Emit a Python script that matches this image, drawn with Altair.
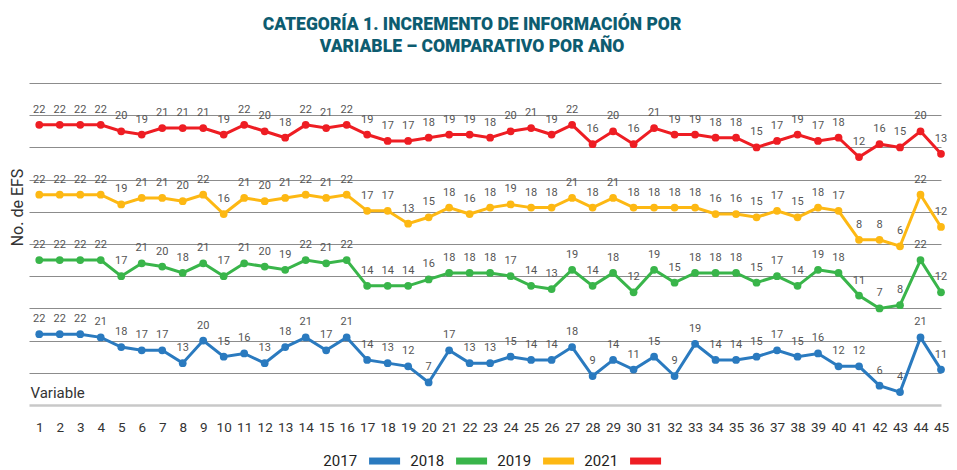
import altair as alt
import pandas as pd

variables = list(range(1, 46))
years = ["2017", "2018", "2019", "2021"]
colors = ["#2a7abf", "#39b54a", "#fdb813", "#ee1d23"]
band_offsets = [0, 23, 43.3, 65]

v2017 = [22, 22, 22, 21, 18, 17, 17, 13, 20, 15, 16, 13, 18, 21, 17, 21, 14, 13, 12, 7, 17, 13, 13,
         15, 14, 14, 18, 9, 14, 11, 15, 9, 19, 14, 14, 15, 17, 15, 16, 12, 12, 6, 4, 21, 11]
v2018 = [22, 22, 22, 22, 17, 21, 20, 18, 21, 17, 21, 20, 19, 22, 21, 22, 14, 14, 14, 16, 18, 18, 18,
         17, 14, 13, 19, 14, 18, 12, 19, 15, 18, 18, 18, 15, 17, 14, 19, 18, 11, 7, 8, 22, 12]
v2019 = [22, 22, 22, 22, 19, 21, 21, 20, 22, 16, 21, 20, 21, 22, 21, 22, 17, 17, 13, 15, 18, 16, 18,
         19, 18, 18, 21, 18, 21, 18, 18, 18, 18, 16, 16, 15, 17, 15, 18, 17, 8, 8, 6, 22, 12]
v2021 = [22, 22, 22, 22, 20, 19, 21, 21, 21, 19, 22, 20, 18, 22, 21, 22, 19, 17, 17, 18, 19, 19, 18,
         20, 21, 19, 22, 16, 20, 16, 21, 19, 19, 18, 18, 15, 17, 19, 17, 18, 12, 16, 15, 20, 13]

rows = []
for year, off, vals in zip(years, band_offsets, [v2017, v2018, v2019, v2021]):
    for var, v in zip(variables, vals):
        rows.append({"variable": var, "year": year, "value": v, "pos": v + off})
df = pd.DataFrame(rows)
legend_df = pd.DataFrame({"year": years, "idx": list(range(len(years)))})

x_scale = alt.Scale(domain=[0.5, 45], nice=False, zero=False)
y_scale = alt.Scale(domain=[0, 100], nice=False)
color_scale = alt.Scale(domain=years, range=colors)

x_axis = alt.Axis(values=variables, format="d", title="Variable", grid=False, ticks=False,
                  domainColor="#c8c8c8", domainWidth=2.5, labelPadding=15,
                  labelFontSize=13.5, labelColor="#333333", labelFlush=False,
                  labelOverlap=False,
                  titleX=1, titleY=-13, titleAlign="left", titleBaseline="middle",
                  titleFontWeight="normal", titleFontSize=15, titleColor="#333333")
y_axis = alt.Axis(values=list(range(10, 101, 10)), grid=True, labels=False, ticks=False,
                  domain=False, title="No. de EFS", gridColor="#8c8c8c", gridWidth=1,
                  titleX=-12, titleY=124, titleAngle=-90, titleAlign="center",
                  titleBaseline="middle", titleFontWeight="normal", titleFontSize=16,
                  titleColor="#333333")

x = alt.X("variable:Q", scale=x_scale, axis=x_axis)
y = alt.Y("pos:Q", scale=y_scale, axis=y_axis)
color = alt.Color("year:N", scale=color_scale, legend=None)

base = alt.Chart(df)
lines = base.mark_line(strokeWidth=3).encode(x=x, y=y, color=color)
points = base.mark_circle(size=60, opacity=1).encode(x=x, y=y, color=color)
labels = base.mark_text(dy=-15, fontSize=11, color="#555555").encode(x=x, y=y, text="value:Q")

# manual legend (label to the left of its colour swatch), placed below the x axis
leg = alt.Chart(legend_df).transform_calculate(
    lx="17.85 + 4.245 * datum.idx", ly="-17.4")
lx = alt.X("lx:Q", scale=x_scale, axis=x_axis)
ly = alt.Y("ly:Q", scale=y_scale, axis=y_axis)
leg_swatch = leg.mark_tick(orient="horizontal", size=31, thickness=7, opacity=1).encode(
    x=lx, y=ly, color=color)
leg_text = leg.mark_text(align="right", baseline="middle", dx=-27.5, fontSize=15,
                         color="#222222").encode(x=lx, y=ly, text="year:N")

chart = alt.layer(lines, points, labels, leg_swatch, leg_text).properties(
    width=912, height=322,
    padding={"left": 21, "top": 75, "right": 8, "bottom": 64},
    autosize=alt.AutoSizeParams(type="none"),
    title=alt.Title(["CATEGORÍA 1. INCREMENTO DE INFORMACIÓN POR", "VARIABLE – COMPARATIVO POR AÑO"],
                    fontSize=17.5, fontWeight=900, color="#0d5c70", anchor="middle", dx=-13,
                    offset=28, lineHeight=22, font="Roboto"),
).configure(font="Roboto").configure_view(stroke=None)

chart.save("out.html", embed_options={"renderer": "svg", "actions": False})
